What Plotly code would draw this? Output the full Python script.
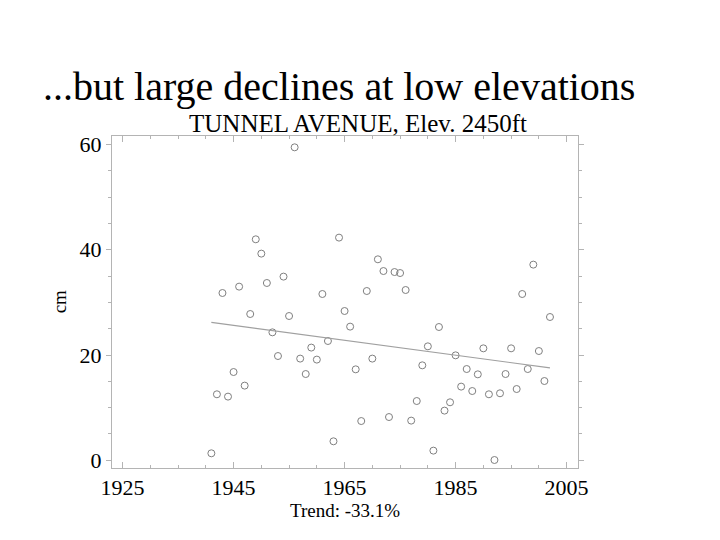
import numpy as np
import plotly.graph_objects as go

years = list(range(1941, 2003))
snow_cm = [1.33, 12.54, 31.78, 12.10, 16.77, 32.99, 14.19, 27.79, 41.98, 39.26,
           33.68, 24.31, 19.81, 34.89, 27.41, 59.45, 19.32, 16.39, 21.41, 19.13,
           31.59, 22.66, 3.61, 42.30, 28.36, 25.39, 17.28, 7.46, 32.16, 19.32,
           38.18, 35.95, 8.22, 35.76, 35.57, 32.35, 7.54, 11.26, 18.04, 21.65,
           1.84, 25.32, 9.44, 11.02, 19.94, 14.00, 17.34, 13.16, 16.33, 21.27,
           12.54, 0.06, 12.73, 16.39, 21.27, 13.54, 31.59, 17.34, 37.17, 20.76,
           15.06, 27.22]
x_ticks = [1925, 1945, 1965, 1985, 2005]
y_ticks = [0, 20, 40, 60]
title_text = "...but large declines at low elevations"
subtitle_text = "TUNNEL AVENUE, Elev. 2450ft"
trend_text = "Trend: -33.1%"

slope, intercept = np.polyfit(years, snow_cm, 1)
trend_x = [years[0], years[-1]]
trend_y = [intercept + slope * v for v in trend_x]

SERIF = "Liberation Serif, Times New Roman, serif"
AX = "#b4b4b4"

fig = go.Figure()
fig.add_trace(go.Scatter(x=years, y=snow_cm, mode="markers",
                         marker=dict(symbol="circle-open", size=7,
                                     color="#808080", line=dict(width=1, color="#808080")),
                         showlegend=False, hoverinfo="skip"))
fig.add_trace(go.Scatter(x=trend_x, y=trend_y, mode="lines",
                         line=dict(color="#a0a0a0", width=1.2),
                         showlegend=False, hoverinfo="skip"))

fig.update_layout(
    width=720, height=540,
    margin=dict(l=112, r=142, t=136, b=72),
    paper_bgcolor="white", plot_bgcolor="white",
    font=dict(family=SERIF, color="black"),
    xaxis=dict(range=[1923.1, 2007.05], tickvals=x_ticks, ticks="inside",
               ticklen=6, tickcolor=AX, showline=True, linecolor=AX, linewidth=1,
               mirror="ticks", showgrid=False, zeroline=False,
               tickfont=dict(size=22, family=SERIF, color="black"),
               minor=dict(dtick=5, tick0=1925, ticks="inside", ticklen=3, tickcolor=AX)),
    yaxis=dict(range=[-1.46, 61.6], tickvals=y_ticks, ticks="outside",
               ticklen=5, tickcolor=AX, showline=True, linecolor=AX, linewidth=1,
               mirror="ticks", showgrid=False, zeroline=False,
               tickfont=dict(size=22, family=SERIF, color="black"),
               minor=dict(dtick=5, tick0=0, ticks="outside", ticklen=3, tickcolor=AX)),
    annotations=[
        dict(text=title_text, xref="paper", yref="paper", x=0.488, y=1.148,
             xanchor="center", yanchor="middle", showarrow=False,
             font=dict(size=40, family=SERIF, color="black")),
        dict(text=subtitle_text, xref="paper", yref="paper", x=0.527, y=1.038,
             xanchor="center", yanchor="middle", showarrow=False,
             font=dict(size=25, family=SERIF, color="black")),
        dict(text=trend_text, xref="paper", yref="paper", x=0.5, y=-0.127,
             xanchor="center", yanchor="middle", showarrow=False,
             font=dict(size=19, family=SERIF, color="black")),
        dict(text="cm", xref="paper", yref="paper", x=-0.113, y=0.5,
             xanchor="center", yanchor="middle", showarrow=False, textangle=-90,
             font=dict(size=19, family=SERIF, color="black")),
    ],
)

fig.write_html("out.html")
